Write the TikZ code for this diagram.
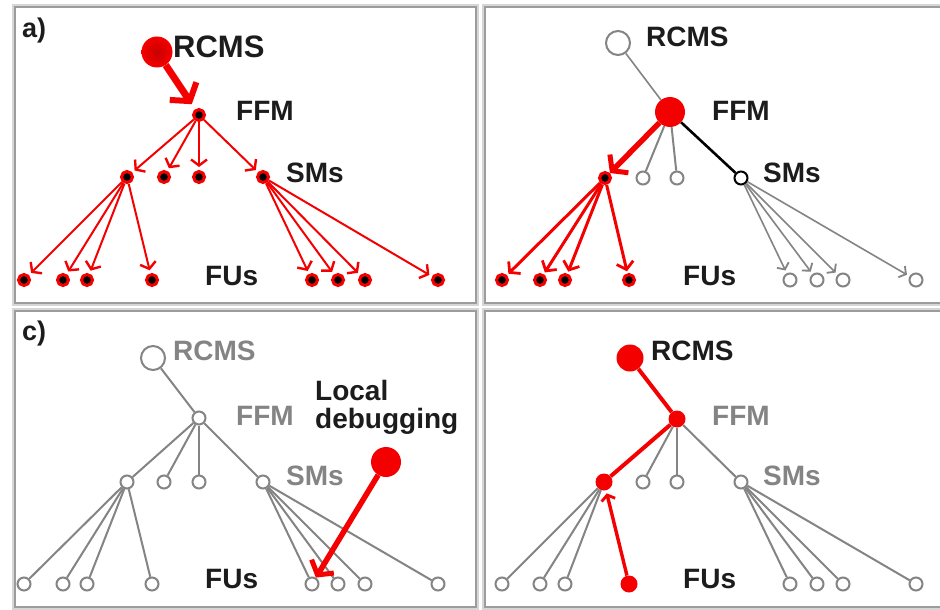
\documentclass[tikz,border=0pt]{standalone}
\usepackage{fontspec}
\setmainfont{Liberation Sans}
\usetikzlibrary{arrows.meta}
\definecolor{hot}{HTML}{F50000}
\definecolor{dim}{HTML}{848484}
\definecolor{ink}{HTML}{1C1C1C}
\definecolor{frame}{HTML}{9C9C9C}
\definecolor{halo}{HTML}{D6D6D6}

\begin{document}
\begin{tikzpicture}[x=1pt,y=-1pt,
  panel/.style={draw=frame,line width=2.4pt,fill=white},
  panelhalo/.style={draw=halo,line width=6pt},
  lbl/.style={anchor=base west,inner sep=0pt,text=ink,font=\bfseries\fontsize{28}{32}\selectfont},
  biglbl/.style={lbl,font=\bfseries\fontsize{31}{34}\selectfont},
  dimlbl/.style={lbl,text=dim},
  tag/.style={anchor=base west,inner sep=0pt,text=ink,font=\bfseries\fontsize{27}{30}\selectfont},
  livenode/.style={circle,inner sep=0pt,minimum size=11pt,fill=black,draw=hot,line width=3pt},
  idlenode/.style={circle,inner sep=0pt,minimum size=13pt,fill=white,draw=dim,line width=2pt},
  bigidle/.style={idlenode,minimum size=24pt},
  blacknode/.style={idlenode,draw=black},
  redball/.style={circle,inner sep=0pt,minimum size=30pt,fill=hot},
  reddot/.style={circle,inner sep=0pt,minimum size=17pt,fill=hot},
  redarrow/.style={draw=hot,line width=2pt,-{Straight Barb[length=6pt,width=16pt,line width=2.4pt]},shorten >=3pt},
  boldarrow/.style={draw=hot,line width=3pt,-{Straight Barb[length=7pt,width=17pt,line width=2.8pt]},shorten >=2pt},
  thickarrow/.style={draw=hot,line width=5.5pt,-{Straight Barb[length=10pt,width=26pt,line width=5pt]}},
  dimarrow/.style={draw=dim,line width=1.6pt,-{Straight Barb[length=5pt,width=13pt,line width=1.8pt]},shorten >=3pt},
  dimline/.style={draw=dim,line width=2pt},
  redline/.style={draw=hot,line width=4pt}
]
\useasboundingbox (0,0) rectangle (940,610);

% ---- frames of the four panels
\foreach \l/\t/\r/\b in {15/7/476/303, 485/7/952/303, 15/311/476/607, 485/311/952/607}{
  \draw[panelhalo] (\l,\t) rectangle (\r,\b);
  \draw[panel] (\l,\t) rectangle (\r,\b);
}

% =========================== panel a: commands flow down
\node[tag] (taga) at (22,38) {a)};
\node[circle,inner sep=0pt,minimum size=31pt,shade,inner color=hot!82!black,outer color=hot] (aR) at (157,52) {};
\node[livenode] (aF) at (199,115) {};
\foreach \n/\x in {1/127,2/164,3/199,4/263}
  \node[livenode] (aS\n) at (\x,177) {};
\foreach \n/\x in {1/24,2/63,3/87,4/152,5/312,6/338,7/365,8/438}
  \node[livenode] (aU\n) at (\x,280) {};
\draw[hot,line width=7pt,-{Straight Barb[length=12pt,width=32pt,line width=6pt]},shorten >=6pt] (aR) -- (aF);
\foreach \n in {1,2,3,4} \draw[redarrow] (aF) -- (aS\n);
\foreach \n in {1,2,3,4} \draw[redarrow] (aS1) -- (aU\n);
\foreach \n in {5,6,7,8} \draw[redarrow] (aS4) -- (aU\n);
\node[biglbl] (aRl) at (173,58) {RCMS};
\node[lbl] (aFl) at (236,121) {FFM};
\node[lbl] (aSl) at (286,182) {SMs};
\node[lbl] (aUl) at (205,285) {FUs};

% =========================== panel b: the FFM drives one SM
\node[bigidle] (bR) at (618,43) {};
\node[redball] (bF) at (670,112) {};
\node[livenode] (bS1) at (605,178) {};
\node[idlenode] (bS2) at (643,178) {};
\node[idlenode] (bS3) at (677,178) {};
\node[blacknode] (bS4) at (741,178) {};
\foreach \n/\x in {1/502,2/540,3/565,4/629}
  \node[livenode] (bU\n) at (\x,280) {};
\foreach \n/\x in {5/790,6/817,7/843,8/916}
  \node[idlenode] (bU\n) at (\x,280) {};
\draw[draw=dim,line width=1.6pt] (bR) -- (bF);
\draw[dimline] (bF) -- (bS2);
\draw[dimline] (bF) -- (bS3);
\draw[draw=black,line width=2.6pt] (bF) -- (bS4);
\draw[thickarrow] (bF) -- (bS1);
\foreach \n in {1,2,3,4} \draw[boldarrow] (bS1) -- (bU\n);
\foreach \n in {5,6,7,8} \draw[dimarrow] (bS4) -- (bU\n);
\node[lbl] (bRl) at (646,47) {RCMS};
\node[lbl] (bFl) at (712,121) {FFM};
\node[lbl] (bSl) at (763,182) {SMs};
\node[lbl] (bUl) at (683,285) {FUs};

% =========================== panel c: local debugging of one FU
\node[tag] (tagc) at (22,340) {c)};
\node[bigidle] (cR) at (153,358) {};
\node[idlenode] (cF) at (199,418) {};
\foreach \n/\x in {1/127,2/164,3/199,4/263}
  \node[idlenode] (cS\n) at (\x,482) {};
\foreach \n/\x in {1/24,2/63,3/87,4/152,5/312,6/338,7/365,8/438}
  \node[idlenode] (cU\n) at (\x,584) {};
\draw[dimline] (cR) -- (cF);
\foreach \n in {1,2,3,4} \draw[dimline] (cF) -- (cS\n);
\foreach \n in {1,2,3,4} \draw[dimline] (cS1) -- (cU\n);
\foreach \n in {5,6,7,8} \draw[dimline] (cS4) -- (cU\n);
\node[dimlbl] (cRl) at (173,360) {RCMS};
\node[dimlbl] (cFl) at (236,425) {FFM};
\node[dimlbl] (cSl) at (286,485) {SMs};
\node[lbl] (cUl) at (205,588) {FUs};
\node[lbl] (cDl) at (315,400) {Local};
\node[lbl] (cDl2) at (315,428) {debugging};
\node[redball] (cL) at (386,462) {};
\draw[thickarrow] (cL) -- (cU5);

% =========================== panel d: an FU reports upwards
\node[redball,minimum size=27pt] (dR) at (630,358) {};
\node[reddot] (dF) at (677,419) {};
\node[reddot] (dS1) at (604,482) {};
\foreach \n/\x in {2/643,3/677,4/741}
  \node[idlenode] (dS\n) at (\x,482) {};
\foreach \n/\x in {1/502,2/540,3/565,5/790,6/817,7/843,8/916}
  \node[idlenode] (dU\n) at (\x,584) {};
\node[reddot] (dU4) at (629,584) {};
\foreach \n in {2,3,4} \draw[dimline] (dF) -- (dS\n);
\foreach \n in {1,2,3} \draw[dimline] (dS1) -- (dU\n);
\foreach \n in {5,6,7,8} \draw[dimline] (dS4) -- (dU\n);
\draw[redline] (dR) -- (dF) -- (dS1);
\draw[hot,line width=3.4pt,-{Straight Barb[length=5pt,width=14pt,line width=2.8pt]},shorten >=3pt] (dU4) -- (dS1);
\node[lbl] (dRl) at (651,360) {RCMS};
\node[dimlbl] (dFl) at (712,425) {FFM};
\node[dimlbl] (dSl) at (763,485) {SMs};
\node[lbl] (dUl) at (683,588) {FUs};
\end{tikzpicture}
\end{document}
